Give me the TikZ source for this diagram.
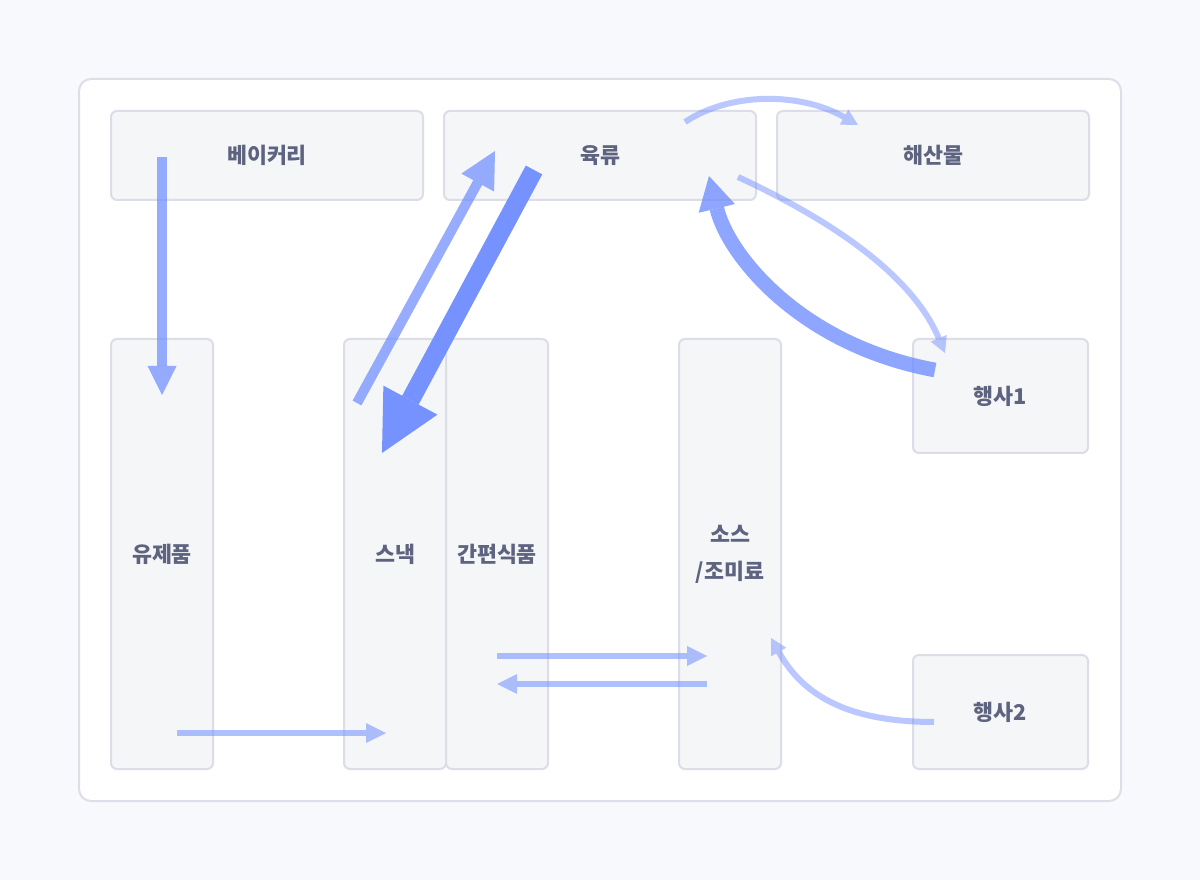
\documentclass[tikz,border=0pt]{standalone}
\usepackage{fontspec}
\setmainfont{Noto Sans CJK KR}
\usetikzlibrary{arrows.meta}
\definecolor{bgc}{HTML}{F8F9FD}
\definecolor{boxfill}{HTML}{F5F6F8}
\definecolor{boxline}{HTML}{DCDDE7}
\definecolor{outerline}{HTML}{DDDFE8}
\definecolor{txt}{HTML}{5E6380}
\definecolor{arr}{HTML}{6F8DFF}
\tikzset{
  catbox/.style={draw=boxline, fill=boxfill, line width=1.5pt, rounded corners=4.5pt,
    inner sep=0pt, outer sep=0pt, text=txt, align=center,
    font=\bfseries\fontsize{16.3}{27.5}\selectfont},
  flow/.style={draw=arr, line cap=butt},
  light/.style={flow, opacity=0.48, line width=4.5pt,
    -{Triangle[length=12pt,width=13pt,line width=0pt]}},
  lightstraight/.style={flow, opacity=0.55, line width=4.5pt,
    -{Triangle[length=15pt,width=15pt,line width=0pt]}},
}
\begin{document}
\begin{tikzpicture}[x=0.75pt,y=-0.75pt]
\fill[bgc] (0,0) rectangle (1200,880);
\useasboundingbox (0,0) rectangle (1200,880);
\draw[outerline, fill=white, line width=1.5pt, rounded corners=9pt] (79,79) rectangle (1121,801);

% top row
\node[catbox, minimum width=234pt, minimum height=66.75pt] (bakery) at (267,155.5) {베이커리};
\node[catbox, minimum width=234pt, minimum height=66.75pt] (meat) at (600,155.5) {육류};
\node[catbox, minimum width=234pt, minimum height=66.75pt] (sea) at (933,155.5) {해산물};
% tall boxes
\node[catbox, minimum width=76.5pt, minimum height=322.5pt] (dairy) at (162,554) {유제품};
\node[catbox, minimum width=76.5pt, minimum height=322.5pt] (snack) at (395,554) {스낵};
\node[catbox, minimum width=76.5pt, minimum height=322.5pt] (ready) at (497,554) {간편식품};
\node[catbox, minimum width=76.5pt, minimum height=322.5pt] (sauce) at (730,554) {소스\\/조미료};
% events
\node[catbox, minimum width=131.25pt, minimum height=85.5pt] (ev1) at (1000.5,396) {행사1};
\node[catbox, minimum width=131.25pt, minimum height=85.5pt] (ev2) at (1000.5,712) {행사2};

% connector end points
\coordinate (a1s) at (162,157);  \coordinate (a1e) at (162,395);
\coordinate (a2s) at (357,403);  \coordinate (a2e) at (495,151);
\coordinate (a3s) at (534,170);  \coordinate (a3e) at (382,453);
\coordinate (a4s) at (685,122);  \coordinate (a4e) at (858,125);
\coordinate (a5s) at (738,177);  \coordinate (a5e) at (945,353);
\coordinate (a6s) at (935,370);  \coordinate (a6e) at (709,176);
\coordinate (a7s) at (497,656);  \coordinate (a7e) at (707,656);
\coordinate (a8s) at (707,684);  \coordinate (a8e) at (497,684);
\coordinate (a9s) at (177,733);  \coordinate (a9e) at (386,733);
\coordinate (a10s) at (934,722); \coordinate (a10e) at (771,638);

% bakery -> dairy
\draw[flow, opacity=0.72, line width=7.5pt,
  -{Triangle[length=21.75pt,width=21.75pt,line width=0pt]}] (a1s) -- (a1e);
% snack -> meat
\draw[flow, opacity=0.72, line width=7.5pt,
  -{Triangle[length=27pt,width=28pt,line width=0pt]}] (a2s) -- (a2e);
% meat -> snack
\draw[flow, opacity=0.95, line width=14pt,
  -{Triangle[length=45pt,width=46pt,line width=0pt]}] (a3s) -- (a3e);
% meat -> seafood
\draw[light] (a4s) .. controls (730,92) and (800,92) .. (a4e);
% meat -> event1
\draw[light] (a5s) .. controls (820,215) and (910,270) .. (a5e);
% event1 -> meat
\draw[flow, opacity=0.78, line width=11pt,
  -{Triangle[length=25pt,width=28pt,line width=0pt]}] (a6s) .. controls (800,345) and (728,255) .. (a6e);
% ready <-> sauce
\draw[lightstraight] (a7s) -- (a7e);
\draw[lightstraight] (a8s) -- (a8e);
% dairy -> snack
\draw[lightstraight] (a9s) -- (a9e);
% event2 -> sauce
\draw[light] (a10s) .. controls (840,722) and (800,690) .. (a10e);
\end{tikzpicture}
\end{document}
